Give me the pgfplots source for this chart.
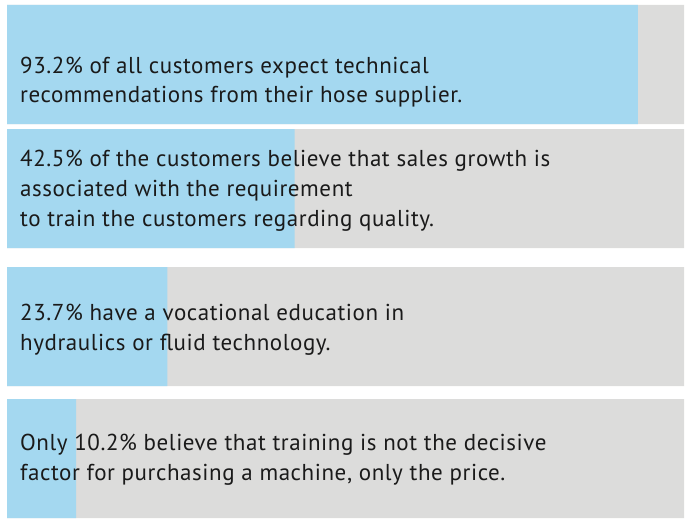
\documentclass[border=0pt]{standalone}
\usepackage{fontspec}
\setmainfont{PT Sans}[LetterSpace=2.5]
\usepackage{pgfplots}
\pgfplotsset{compat=1.18}
\definecolor{cBlue}{RGB}{164,216,240}
\definecolor{cGray}{RGB}{220,220,219}
\definecolor{cText}{RGB}{26,26,26}

\begin{document}
\begin{tikzpicture}
\useasboundingbox (0,0) rectangle (687pt,519pt);
\begin{axis}[
    at={(0,0)}, anchor=south west,
    scale only axis,
    width=687pt, height=519pt,
    xmin=-1.034, xmax=100.443,
    ymin=0, ymax=519,
    y dir=reverse,
    hide axis,
    clip=false,
]
% background (100%)
\addplot[xbar, bar width=119, bar shift=0pt, fill=cGray, draw=none]
    coordinates {(100,64.5) (100,188.5) (100,326.5) (100,458.5)};
% share of customers
\addplot[xbar, bar width=119, bar shift=0pt, fill=cBlue, draw=none]
    coordinates {(93.2,64.5) (42.5,188.5) (23.7,326.5) (10.2,458.5)};

\tikzset{lbl/.style={anchor=base west, inner sep=0pt, text=cText,
    font=\fontsize{23}{27}\selectfont}}
\node[lbl] at (axis cs:1.92,73) {93.2\% of all customers expect technical};
\node[lbl] at (axis cs:1.92,102) {recommendations from their hose supplier.};
\node[lbl] at (axis cs:1.92,166) {42.5\% of the customers believe that sales growth is};
\node[lbl] at (axis cs:1.92,196) {associated with the requirement};
\node[lbl] at (axis cs:1.92,226) {to train the customers regarding quality.};
\node[lbl] at (axis cs:1.92,320) {23.7\% have a vocational education in};
\node[lbl] at (axis cs:1.92,350) {hydraulics or fluid technology.};
\node[lbl] at (axis cs:1.92,450) {Only 10.2\% believe that training is not the decisive};
\node[lbl] at (axis cs:1.92,480) {factor for purchasing a machine, only the price.};
\end{axis}
\end{tikzpicture}
\end{document}
